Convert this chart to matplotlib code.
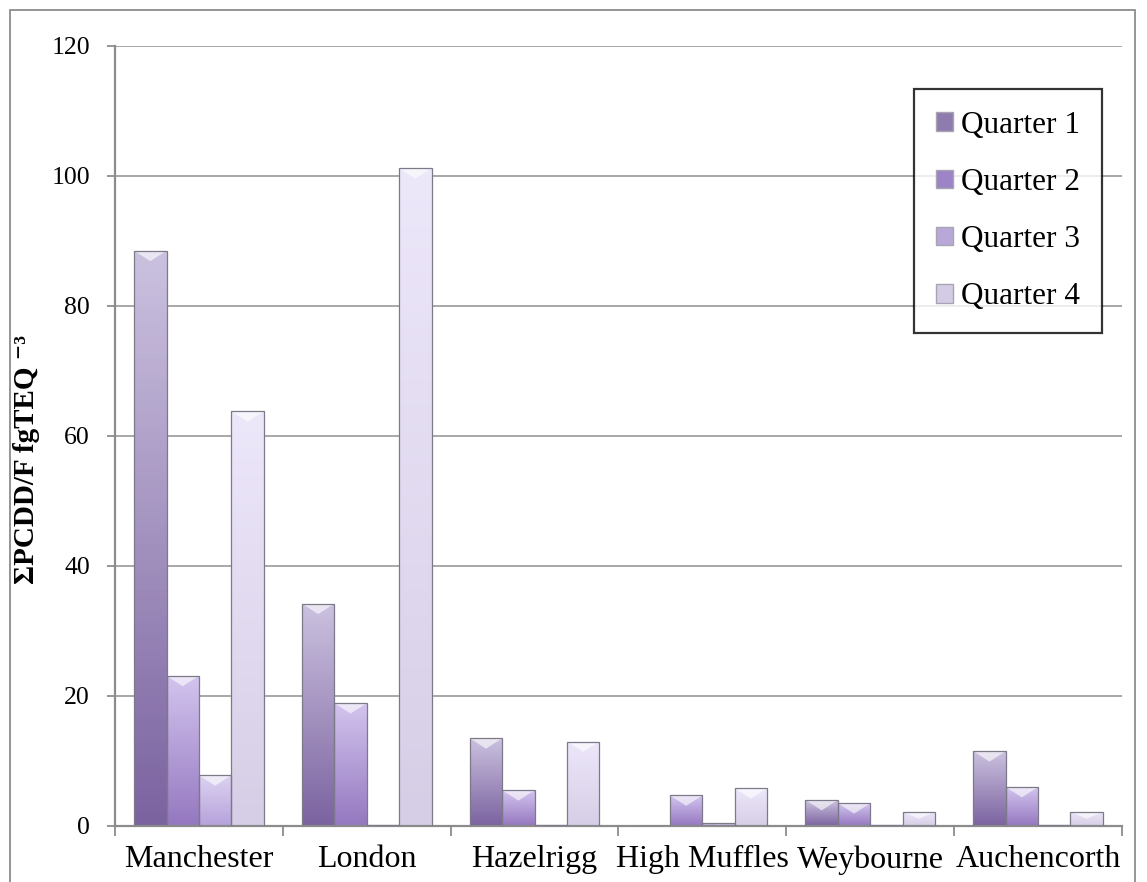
import matplotlib.pyplot as plt
import numpy as np
from matplotlib.patches import Patch, Polygon, Rectangle
from matplotlib.colors import LinearSegmentedColormap

plt.rcParams['font.family'] = ['Liberation Serif', 'DejaVu Serif']

# datos
sites = ['Manchester', 'London', 'Hazelrigg', 'High Muffles', 'Weybourne', 'Auchencorth']
quarters = ['Quarter 1', 'Quarter 2', 'Quarter 3', 'Quarter 4']
q1 = [88.5, 34.2, 13.5, 0.0, 4.0, 11.5]
q2 = [23.1, 18.9, 5.5, 4.7, 3.5, 6.0]
q3 = [7.8, 0.2, 0.2, 0.5, 0.2, 0.2]
q4 = [63.8, 101.2, 13.0, 5.8, 2.2, 2.2]
series = [q1, q2, q3, q4]

# colores (abajo, arriba) de cada trimestre
grad = [('#7b63a0', '#cbc1df'),
        ('#9578c0', '#d2c4ee'),
        ('#b6a2da', '#ddd2f2'),
        ('#d6cee6', '#ede7fa')]
legend_cols = ['#8e7cae', '#9c84c6', '#b8a8d8', '#d4cce4']

W, H = 1147, 882
fig = plt.figure(figsize=(W / 100, H / 100), dpi=100)
ax = fig.add_axes([115 / W, 1 - 826 / H, 1007 / W, 780 / H])

# borde exterior
fig.patches.append(Rectangle((10 / W, -0.05), 1125 / W, 1.05 - 10 / H,
                             transform=fig.transFigure, fill=False,
                             edgecolor='#8c8c8c', linewidth=1.3))

x = np.arange(len(sites))
w = 0.193
offs = (np.arange(4) - 1.5) * w
bevel = 1.6  # en unidades de datos

for i, vals in enumerate(series):
    cmap = LinearSegmentedColormap.from_list('g%d' % i, [grad[i][0], grad[i][1]])
    bars = ax.bar(x + offs[i], vals, w, facecolor='none', edgecolor='#7c7a88',
                  linewidth=0.9, zorder=3)
    for b, v in zip(bars, vals):
        if v <= 0:
            continue
        x0, x1 = b.get_x(), b.get_x() + b.get_width()
        g = np.linspace(0, 1, 100).reshape(-1, 1)
        im = ax.imshow(g, cmap=cmap, aspect='auto', origin='lower',
                       extent=[x0, x1, 0, v], zorder=2)
        im.set_clip_path(b)
        d = min(bevel, v * 0.5)
        tri = Polygon([[x0, v], [x1, v], [(x0 + x1) / 2, v - d]], closed=True,
                      facecolor='white', alpha=0.6, edgecolor='none', zorder=2.5)
        ax.add_patch(tri)

ax.set_xlim(-0.5, len(sites) - 0.5)
ax.set_ylim(0, 120)
ax.set_yticks(np.arange(0, 121, 20))
ax.set_xticks(x)
ax.set_xticklabels(sites, fontsize=23)
ax.set_xticks(np.arange(-0.5, len(sites)), minor=True)
ax.tick_params(axis='x', which='major', length=0, pad=14)
ax.tick_params(axis='x', which='minor', length=7, width=1.3, color='#8c8c8c', direction='out')
ax.tick_params(axis='y', labelsize=18.5, length=6, width=1.3, color='#8c8c8c', pad=12)
ax.grid(axis='y', color='#a0a0a0', linewidth=1.3, zorder=0)
ax.set_axisbelow(True)
for s in ['top', 'right']:
    ax.spines[s].set_visible(False)
for s in ['left', 'bottom']:
    ax.spines[s].set_color('#8c8c8c')
    ax.spines[s].set_linewidth(1.6)

ax.set_ylabel('ΣPCDD/F fgTEQ ⁻³', fontsize=21, fontweight='bold')
ax.yaxis.set_label_coords((40 - 115) / 1007, (826 - 459) / 780)

handles = [Patch(facecolor=c, edgecolor='#a8a4b4') for c in legend_cols]
leg = fig.legend(handles, quarters, loc='upper left',
                 bbox_to_anchor=(914 / W, 1 - 89 / H),
                 fontsize=22.5, frameon=True, fancybox=False, labelspacing=0.9,
                 handlelength=0.55, handleheight=0.55, handletextpad=0.25,
                 borderpad=0.7, borderaxespad=0)
leg.get_frame().set_edgecolor('black')
leg.get_frame().set_linewidth(1.6)

fig.savefig('out.png', dpi=100)
